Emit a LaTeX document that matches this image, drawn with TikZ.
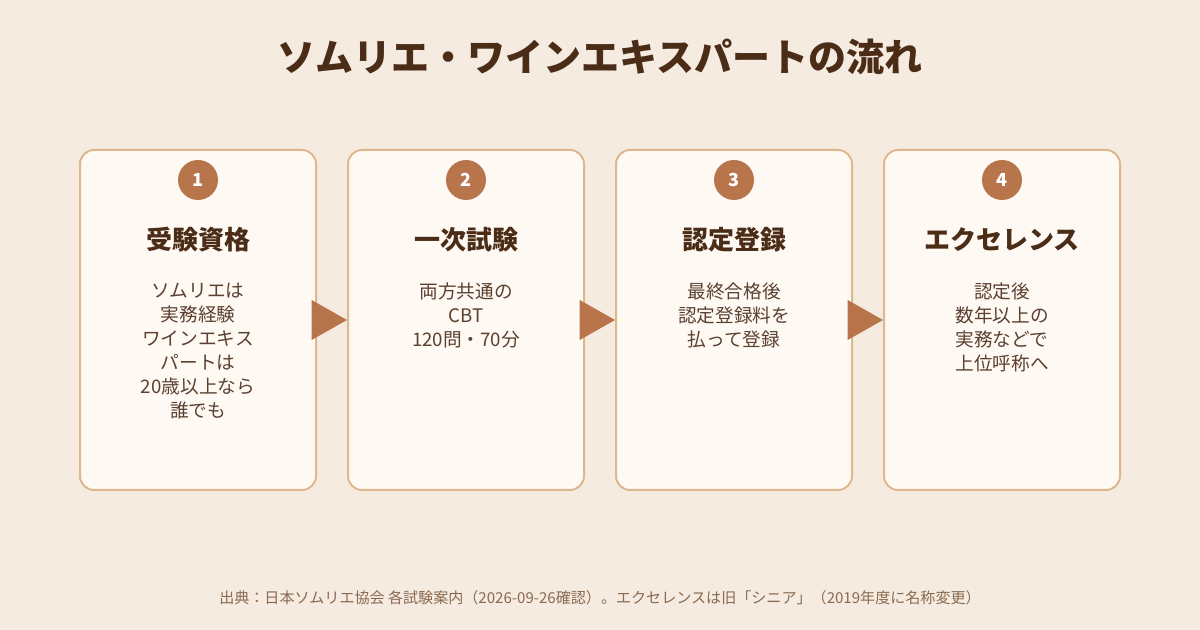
\documentclass[tikz,border=0pt]{standalone}
\usepackage{fontspec}
\setmainfont{Noto Sans CJK JP}
\usetikzlibrary{positioning}
\definecolor{bgcol}{HTML}{F5EBE0}
\definecolor{cardfill}{HTML}{FFF9F3}
\definecolor{cardline}{HTML}{DDB88E}
\definecolor{accent}{HTML}{B8744A}
\definecolor{darkbrown}{HTML}{4A2C17}
\definecolor{bodybrown}{HTML}{5A4030}
\definecolor{notebrown}{HTML}{8A6A50}
\tikzset{
  stepcard/.style={draw=cardline, line width=1.5pt, fill=cardfill, rounded corners=10.5pt,
    minimum width=177pt, minimum height=255pt, inner sep=0pt},
  stepnum/.style={circle, fill=accent, minimum size=30pt, inner sep=0pt, text=white,
    font=\fontsize{13.5}{14}\selectfont\bfseries},
  steptitle/.style={text=darkbrown, font=\fontsize{19.5}{22}\selectfont\bfseries},
  stepbody/.style={text=bodybrown, align=center, anchor=north,
    font=\fontsize{14}{18}\selectfont},
  flowtip/.style={fill=accent}
}
\begin{document}
\begin{tikzpicture}[x=0.75pt,y=-0.75pt]
  \fill[bgcol] (0,0) rectangle (1200,630);
  \useasboundingbox (0,0) rectangle (1200,630);
  \node[text=darkbrown, font=\fontsize{28.5}{32}\selectfont\bfseries] (title) at (600,57) {ソムリエ・ワインエキスパートの流れ};
  % cards
  \node[stepcard] (c1) at (198,320) {};
  \node[stepcard] (c2) at (466,320) {};
  \node[stepcard] (c3) at (734,320) {};
  \node[stepcard] (c4) at (1002,320) {};
  \node[stepnum] (n1) at (198,180) {1};
  \node[stepnum] (n2) at (466,180) {2};
  \node[stepnum] (n3) at (734,180) {3};
  \node[stepnum] (n4) at (1002,180) {4};
  \node[steptitle] (t1) at (198,240) {受験資格};
  \node[steptitle] (t2) at (466,240) {一次試験};
  \node[steptitle] (t3) at (734,240) {認定登録};
  \node[steptitle] (t4) at (1002,240) {エクセレンス};
  \node[stepbody] (b1) at (198,278) {ソムリエは\\実務経験\\ワインエキス\\パートは\\20歳以上なら\\誰でも};
  \node[stepbody] (b2) at (466,278) {両方共通の\\CBT\\120問・70分};
  \node[stepbody] (b3) at (734,278) {最終合格後\\認定登録料を\\払って登録};
  \node[stepbody] (b4) at (1002,278) {認定後\\数年以上の\\実務などで\\上位呼称へ};
  % arrows between cards
  \foreach \a/\b in {c1/c2, c2/c3, c3/c4}
    \fill[flowtip] ([xshift=-4]\a.east) ++(0,-20) -- ++(0,40) -- (\b.west) -- cycle;
  \node[text=notebrown, font=\fontsize{11.3}{13}\selectfont] (note) at (600,598)
    {出典：日本ソムリエ協会 各試験案内（2026-09-26確認）。エクセレンスは旧「シニア」（2019年度に名称変更）};
\end{tikzpicture}
\end{document}
